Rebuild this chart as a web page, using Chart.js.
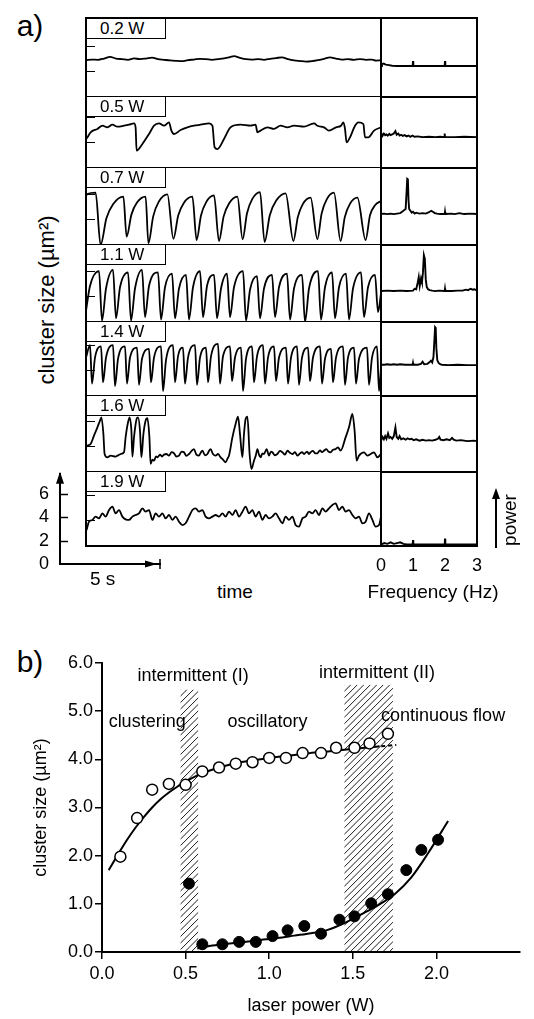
<!DOCTYPE html>
<html>
<head>
<meta charset="utf-8">
<script src="https://cdn.jsdelivr.net/npm/chart.js@4"></script>
<style>
  html, body { margin: 0; padding: 0; background: #fff; }
  body { width: 534px; height: 1019px; position: relative; overflow: hidden;
         font-family: "Liberation Sans", Arial, sans-serif; color: #000; }
  canvas { position: absolute; }
  .lbl { position: absolute; box-sizing: border-box; border: 1px solid #000; background: #fff;
         font-size: 17px; line-height: 19px; padding-left: 13px; z-index: 3; }
  .rule { position: absolute; background: #000; z-index: 2; }
  .frame { position: absolute; box-sizing: border-box; border: 2px solid #000; z-index: 2; }
  .txt { position: absolute; white-space: nowrap; line-height: 1; }
</style>
</head>
<body>
<script>
// ---------- data: a) traces, time in s, cluster size in µm² ----------
const powerLabels = ["0.2 W", "0.5 W", "0.7 W", "1.1 W", "1.4 W", "1.6 W", "1.9 W"];

const trace02 = [[0,4.48],[0.3,4.52],[0.6,4.5],[0.9,4.6],[1.2,4.74],[1.5,4.6],[1.8,4.55],[2.1,4.5],[2.4,4.62],[2.7,4.55],[3.0,4.6],[3.3,4.68],[3.6,4.55],[3.9,4.5],[4.2,4.45],[4.5,4.42],[4.8,4.4],[5.1,4.48],[5.4,4.52],[5.7,4.58],[6.0,4.55],[6.3,4.5],[6.6,4.56],[6.9,4.62],[7.2,4.72],[7.4,4.8],[7.7,4.66],[8.0,4.55],[8.3,4.52],[8.6,4.56],[8.9,4.5],[9.2,4.58],[9.5,4.64],[9.8,4.7],[10.1,4.55],[10.4,4.45],[10.7,4.4],[11.0,4.36],[11.3,4.4],[11.6,4.48],[11.9,4.58],[12.2,4.7],[12.5,4.6],[12.8,4.52],[13.1,4.55],[13.4,4.5],[13.7,4.56],[14.0,4.5],[14.3,4.52],[14.5,4.44],[14.75,4.46]];

const trace05 = [[0,3.8],[0.07,3.97],[0.23,4.38],[0.57,4.65],[0.82,4.91],[1.07,4.78],[1.32,4.99],[1.57,4.83],[1.9,4.91],[2.15,4.99],[2.4,5.1],[2.48,4.78],[2.53,2.9],[2.82,3.44],[3.15,4.24],[3.4,4.91],[3.65,5.1],[3.9,4.91],[4.15,5.18],[4.27,4.51],[4.4,4.24],[4.73,4.56],[5.07,4.78],[5.4,4.91],[5.73,4.99],[6.15,5.1],[6.32,4.91],[6.43,3.17],[6.57,3.03],[6.9,3.84],[7.23,4.78],[7.73,4.99],[8.23,4.91],[8.48,4.99],[8.57,4.38],[8.73,4.51],[9.07,4.78],[9.4,4.65],[9.73,4.91],[10.07,4.78],[10.4,4.91],[10.9,4.83],[11.4,5.1],[11.57,4.91],[11.9,4.78],[12.15,4.51],[12.5,4.78],[12.75,4.91],[12.87,5.18],[12.95,4.65],[13.03,3.57],[13.2,3.97],[13.45,4.91],[13.62,5.18],[13.87,5.04],[13.95,3.97],[14.12,3.97],[14.4,4.51],[14.75,4.78]];

const trace07 = [[0,5.5],[0.07,5.6],[0.48,5.72],[0.73,1.5],[1.02,3.65],[1.36,4.8],[1.87,5.4],[2.03,2.17],[2.27,3.95],[2.55,4.92],[2.98,5.4],[3.12,1.63],[3.36,3.81],[3.64,5.0],[4.07,5.59],[4.37,2.0],[4.61,3.87],[4.89,4.89],[5.32,5.4],[5.53,1.9],[5.75,3.88],[6.01,4.96],[6.4,5.5],[6.65,1.82],[6.88,3.79],[7.16,4.86],[7.57,5.4],[7.83,1.96],[8.05,4.06],[8.31,5.2],[8.7,5.77],[8.93,1.74],[9.19,3.9],[9.51,5.08],[9.98,5.67],[10.37,1.82],[10.59,3.75],[10.84,4.8],[11.23,5.32],[11.57,1.96],[11.78,4.03],[12.03,5.16],[12.4,5.72],[12.73,1.82],[12.94,3.75],[13.19,4.8],[13.57,5.32],[13.98,1.9],[14.2,3.9],[14.45,4.7],[14.75,5.05]];

const trace11 = [[0,2.4],[0.2,4.4],[0.65,5.6],[0.8,1.6],[1.0,4.2],[1.35,5.7],[1.5,1.8],[1.7,4.3],[2.1,5.5],[2.25,1.6],[2.45,4.2],[2.8,5.7],[2.95,1.9],[3.15,4.4],[3.6,5.5],[3.75,1.7],[3.95,4.3],[4.3,5.4],[4.45,1.8],[4.65,4.2],[5.0,5.3],[5.15,1.7],[5.35,4.3],[5.7,5.6],[5.85,1.9],[6.05,4.4],[6.4,5.3],[6.55,1.8],[6.75,4.2],[7.05,5.4],[7.2,1.9],[7.4,4.3],[7.85,5.6],[8.0,1.6],[8.2,4.1],[8.55,5.2],[8.7,1.8],[8.9,4.2],[9.3,5.3],[9.45,1.9],[9.65,4.3],[10.05,5.4],[10.2,1.7],[10.4,4.2],[10.8,5.3],[10.95,1.5],[11.15,4.2],[11.6,5.6],[11.75,1.7],[11.95,4.3],[12.3,5.5],[12.45,1.8],[12.65,4.3],[13.0,5.4],[13.15,1.7],[13.35,4.2],[13.75,5.5],[13.9,1.9],[14.1,4.3],[14.45,5.3],[14.6,2.3],[14.75,3.8]];

const trace14 = [[0,4.6],[0.2,5.6],[0.3,2.5],[0.45,4.6],[0.75,5.5],[0.85,2.6],[1.0,4.6],[1.35,5.6],[1.45,2.3],[1.6,4.5],[1.95,5.5],[2.05,2.5],[2.2,4.6],[2.55,5.4],[2.65,2.4],[2.8,4.5],[3.15,5.3],[3.25,2.6],[3.4,4.6],[3.75,5.5],[3.85,1.9],[4.0,4.4],[4.35,5.6],[4.45,2.6],[4.6,4.7],[4.85,5.4],[4.95,2.5],[5.1,4.6],[5.45,5.6],[5.55,2.4],[5.7,4.6],[6.0,5.4],[6.1,2.6],[6.25,4.7],[6.6,5.7],[6.7,2.5],[6.85,4.7],[7.2,5.5],[7.3,2.7],[7.45,4.6],[7.75,5.4],[7.85,1.9],[8.0,4.5],[8.3,5.5],[8.4,2.6],[8.55,4.7],[8.85,5.6],[8.95,2.5],[9.1,4.6],[9.4,5.5],[9.5,2.7],[9.65,4.6],[10.0,5.4],[10.1,2.5],[10.25,4.6],[10.55,5.5],[10.65,2.4],[10.8,4.6],[11.1,5.4],[11.2,2.7],[11.35,4.6],[11.7,5.5],[11.8,2.5],[11.95,4.5],[12.25,5.3],[12.35,2.6],[12.5,4.6],[12.85,5.5],[12.95,2.4],[13.1,4.6],[13.4,5.4],[13.5,2.5],[13.65,4.5],[14.05,5.4],[14.15,2.4],[14.3,4.6],[14.55,5.5],[14.65,1.9],[14.75,3.8]];

const trace16 = [[0,3.5],[0.07,3.62],[0.23,3.76],[0.4,4.43],[0.57,5.1],[0.7,5.64],[0.77,5.91],[0.87,4.56],[0.93,2.95],[1.07,2.68],[1.23,2.82],[1.48,2.74],[1.73,2.95],[1.9,3.09],[1.98,4.29],[2.1,5.5],[2.18,5.91],[2.27,4.83],[2.32,2.74],[2.4,4.29],[2.53,5.77],[2.6,5.91],[2.7,4.83],[2.77,2.68],[2.87,4.56],[2.98,5.64],[3.07,5.85],[3.17,4.29],[3.23,2.15],[3.32,2.5],[3.4,2.41],[3.5,2.75],[3.57,2.68],[3.7,2.9],[3.8,2.75],[3.9,2.9],[4.02,2.95],[4.15,2.82],[4.28,3.1],[4.4,3.01],[4.52,2.75],[4.65,2.82],[4.78,3.15],[4.9,3.09],[5.02,2.8],[5.15,2.95],[5.28,3.2],[5.4,3.35],[5.52,2.9],[5.65,2.82],[5.75,3.1],[5.82,3.22],[5.95,2.85],[6.07,2.95],[6.15,3.2],[6.23,3.35],[6.35,2.95],[6.48,2.82],[6.6,2.95],[6.73,2.68],[6.85,2.5],[6.98,2.28],[7.08,2.6],[7.15,2.82],[7.32,4.29],[7.48,5.37],[7.6,5.96],[7.7,4.56],[7.82,2.68],[7.9,4.56],[7.98,5.77],[8.07,5.96],[8.18,2.95],[8.27,1.74],[8.4,2.41],[8.5,2.9],[8.57,3.35],[8.65,2.9],[8.73,2.68],[8.82,3.0],[8.9,2.95],[9.03,3.35],[9.15,2.82],[9.25,3.15],[9.32,3.09],[9.45,2.85],[9.57,2.95],[9.7,3.2],[9.82,3.09],[9.95,2.9],[10.07,3.22],[10.2,3.05],[10.32,2.95],[10.45,3.1],[10.57,2.82],[10.7,3.0],[10.8,3.1],[10.9,2.95],[11.05,3.15],[11.15,2.95],[11.23,3.09],[11.35,3.2],[11.47,3.0],[11.57,3.01],[11.7,3.25],[11.8,3.1],[11.9,3.22],[12.02,3.35],[12.12,3.15],[12.23,3.09],[12.35,3.3],[12.48,3.35],[12.6,3.49],[12.73,3.22],[12.98,4.29],[13.15,5.1],[13.32,6.18],[13.43,4.83],[13.53,2.41],[13.65,2.82],[13.9,3.09],[14.07,2.82],[14.23,2.95],[14.4,3.09],[14.57,2.68],[14.75,2.95]];

const trace19 = [[0.03,2.79],[0.15,3.46],[0.32,3.6],[0.48,3.87],[0.65,3.73],[0.82,4.13],[0.98,3.87],[1.15,4.4],[1.32,4.67],[1.48,4.13],[1.65,4.4],[1.82,3.87],[1.98,3.65],[2.15,3.6],[2.32,3.87],[2.48,4.0],[2.65,4.13],[2.82,4.54],[2.98,4.27],[3.15,4.4],[3.32,3.6],[3.48,4.13],[3.65,3.87],[3.82,4.13],[3.98,3.73],[4.15,4.0],[4.32,3.6],[4.48,3.87],[4.65,3.46],[4.82,3.19],[4.98,3.33],[5.15,3.87],[5.32,4.4],[5.48,4.54],[5.65,4.27],[5.82,4.4],[5.98,3.87],[6.15,3.73],[6.32,3.87],[6.48,4.0],[6.65,3.87],[6.82,4.13],[6.98,3.87],[7.15,4.27],[7.32,4.0],[7.48,4.4],[7.65,3.87],[7.82,4.27],[7.98,4.67],[8.15,4.13],[8.32,4.4],[8.48,3.87],[8.65,4.27],[8.82,3.6],[8.98,4.0],[9.15,3.73],[9.32,3.87],[9.48,4.13],[9.65,3.73],[9.82,3.33],[9.98,3.87],[10.15,3.6],[10.32,3.87],[10.48,3.19],[10.65,3.06],[10.82,3.73],[10.98,3.87],[11.15,4.27],[11.32,4.13],[11.48,4.4],[11.65,4.0],[11.82,4.54],[11.98,4.27],[12.15,4.54],[12.32,4.81],[12.48,4.94],[12.65,4.4],[12.82,4.67],[12.98,4.27],[13.15,4.4],[13.32,4.0],[13.48,3.73],[13.65,3.87],[13.82,3.33],[13.98,3.46],[14.15,4.13],[14.32,3.6],[14.48,3.06],[14.65,3.19],[14.75,3.87]];

// ---------- data: a) power spectra, frequency in Hz, power in arb. units ----------
const spec02 = [[0,0.01],[0.03,0.05],[0.08,0.06],[0.15,0.04],[0.25,0.03],[0.35,0.015],[0.5,0.01],[0.99,0.01],[1.0,0.11],[1.01,0.01],[1.99,0.01],[2.0,0.11],[2.01,0.01],[3,0.01]];
const spec05 = [[0,0.02],[0.02,0.09],[0.05,0.05],[0.09,0.1],[0.13,0.06],[0.17,0.08],[0.21,0.05],[0.26,0.09],[0.3,0.06],[0.35,0.08],[0.4,0.1],[0.45,0.16],[0.49,0.07],[0.54,0.1],[0.58,0.05],[0.63,0.07],[0.68,0.04],[0.74,0.06],[0.8,0.03],[0.86,0.05],[0.92,0.02],[0.98,0.05],[1.05,0.02],[1.15,0.03],[1.3,0.01],[1.5,0.02],[1.7,0.01],[1.85,0.02],[1.98,0.01],[1.99,0.1],[2.0,0.01],[2.3,0.01],[2.6,0.02],[3,0.01]];
const spec07 = [[0,0.01],[0.1,0.02],[0.2,0.01],[0.3,0.02],[0.4,0.01],[0.5,0.02],[0.6,0.03],[0.68,0.07],[0.73,0.1],[0.77,0.12],[0.8,0.5],[0.82,0.77],[0.84,0.76],[0.86,0.3],[0.88,0.12],[0.92,0.08],[0.96,0.04],[1.0,0.06],[1.05,0.02],[1.1,0.04],[1.2,0.02],[1.3,0.03],[1.4,0.02],[1.5,0.05],[1.57,0.08],[1.62,0.06],[1.68,0.03],[1.75,0.02],[1.85,0.01],[1.99,0.01],[2.0,0.06],[2.01,0.01],[2.2,0.02],[2.3,0.01],[2.45,0.03],[2.6,0.01],[2.8,0.02],[3,0.01]];
const spec11 = [[0,0.01],[0.2,0.02],[0.4,0.01],[0.6,0.02],[0.8,0.01],[1.0,0.02],[1.05,0.06],[1.1,0.05],[1.15,0.2],[1.18,0.31],[1.21,0.12],[1.25,0.28],[1.28,0.2],[1.31,0.4],[1.34,0.78],[1.37,0.7],[1.4,0.25],[1.43,0.1],[1.47,0.05],[1.52,0.03],[1.6,0.02],[1.7,0.01],[1.8,0.02],[1.99,0.01],[2.0,0.06],[2.01,0.01],[2.2,0.01],[2.4,0.02],[2.55,0.02],[2.65,0.04],[2.72,0.03],[2.8,0.06],[2.86,0.04],[2.92,0.05],[3,0.02]];
const spec14 = [[0,0.02],[0.1,0.02],[0.2,0.03],[0.3,0.02],[0.4,0.03],[0.5,0.02],[0.6,0.03],[0.75,0.02],[0.9,0.02],[0.99,0.02],[1.0,0.06],[1.01,0.02],[1.15,0.02],[1.25,0.04],[1.3,0.09],[1.35,0.03],[1.45,0.04],[1.52,0.08],[1.56,0.11],[1.6,0.07],[1.64,0.2],[1.67,0.6],[1.69,0.88],[1.71,0.86],[1.73,0.4],[1.76,0.12],[1.8,0.06],[1.85,0.03],[1.9,0.02],[2.1,0.01],[2.4,0.02],[2.7,0.01],[3,0.01]];
const spec16 = [[0,0.02],[0.05,0.1],[0.09,0.05],[0.13,0.12],[0.17,0.06],[0.22,0.18],[0.26,0.08],[0.3,0.1],[0.35,0.06],[0.4,0.12],[0.45,0.31],[0.49,0.1],[0.54,0.06],[0.58,0.12],[0.63,0.05],[0.7,0.07],[0.77,0.04],[0.83,0.07],[0.9,0.05],[0.96,0.06],[1.02,0.03],[1.1,0.05],[1.2,0.02],[1.3,0.04],[1.4,0.02],[1.5,0.03],[1.6,0.02],[1.7,0.04],[1.78,0.06],[1.82,0.1],[1.86,0.04],[1.95,0.03],[2.05,0.05],[2.15,0.03],[2.22,0.08],[2.27,0.04],[2.35,0.02],[2.5,0.03],[2.7,0.01],[2.9,0.02],[3,0.01]];
const spec19 = [[0,0.01],[0.1,0.03],[0.2,0.02],[0.3,0.04],[0.4,0.02],[0.5,0.03],[0.6,0.04],[0.7,0.02],[0.8,0.01],[0.99,0.01],[1.0,0.07],[1.01,0.01],[1.5,0.01],[1.99,0.01],[2.0,0.09],[2.01,0.01],[3,0.01]];

const traces = [trace02, trace05, trace07, trace11, trace14, trace16, trace19];
const spectra = [spec02, spec05, spec07, spec11, spec14, spec16, spec19];

const freqTicks = [0, 1, 2, 3];
const scaleSizeTicks = [0, 2, 4, 6];
const panelSizeTicks = [3.6, 5.6];

// ---------- data: b) cluster size vs laser power ----------
const openPower = [0.11, 0.21, 0.3, 0.4, 0.5, 0.6, 0.7, 0.8, 0.9, 1.0, 1.1, 1.2, 1.31, 1.4, 1.51, 1.6, 1.71];
const openSize  = [1.98, 2.78, 3.37, 3.49, 3.47, 3.75, 3.83, 3.91, 3.94, 4.03, 4.03, 4.13, 4.13, 4.24, 4.24, 4.33, 4.53];
const filledPower = [0.52, 0.6, 0.72, 0.82, 0.92, 1.02, 1.11, 1.21, 1.31, 1.42, 1.51, 1.61, 1.71, 1.82, 1.91, 2.01];
const filledSize  = [1.42, 0.16, 0.16, 0.21, 0.21, 0.33, 0.45, 0.54, 0.38, 0.67, 0.74, 1.01, 1.2, 1.7, 2.12, 2.33];
const upperFit = [[0.04,1.7],[0.1,2.05],[0.15,2.33],[0.2,2.58],[0.25,2.8],[0.3,3.0],[0.35,3.17],[0.4,3.31],[0.45,3.43],[0.5,3.54],[0.55,3.63],[0.6,3.71],[0.7,3.83],[0.8,3.92],[0.9,3.98],[1.0,4.03],[1.1,4.07],[1.2,4.11],[1.3,4.15],[1.4,4.18],[1.5,4.22],[1.6,4.25],[1.66,4.27]];
const upperFitDashed = [[1.67,4.27],[1.76,4.3]];
const lowerFit = [[0.57,0.07],[0.65,0.13],[0.75,0.17],[0.85,0.21],[0.95,0.25],[1.05,0.29],[1.15,0.34],[1.25,0.39],[1.35,0.46],[1.45,0.6],[1.55,0.78],[1.65,0.97],[1.75,1.2],[1.85,1.55],[1.95,2.05],[2.07,2.72]];
// intermittent regimes: [from W, to W, top of band]
const intermittentBands = [[0.47, 0.575, 5.45], [1.45, 1.74, 5.55]];
const powerTicks = [0, 0.5, 1, 1.5, 2];
const sizeTicks = [0, 1, 2, 3, 4, 5, 6];
const regimeNotes = [
  { text: "intermittent (I)", x: 0.545, y: 5.72 },
  { text: "intermittent (II)", x: 1.645, y: 5.8 },
  { text: "clustering", x: 0.27, y: 4.78 },
  { text: "oscillatory", x: 0.99, y: 4.78 },
  { text: "continuous flow", x: 2.04, y: 4.9 },
];

// ---------- layout ----------
const FONT = '"Liberation Sans", Arial, sans-serif';
Chart.defaults.font.family = FONT;
Chart.defaults.color = "#000";

const PANEL_EDGES = [18, 97, 168, 245, 322, 396, 472, 546];
const TIME_L = 86, TIME_R = 381, SPEC_R = 477;
const T_END = 14.75;      // seconds across a trace panel
const SIZE_MIN = 1.5;     // cluster size at panel bottom
const PX_PER_UM2 = 12.4;  // same vertical scale as the scale bar

const base = {
  responsive: false, animation: false, events: [], devicePixelRatio: 1,
  plugins: { legend: { display: false }, tooltip: { enabled: false } },
};

function canvasAt(left, top, w, h) {
  const c = document.createElement("canvas");
  c.width = w; c.height = h;
  Object.assign(c.style, { left: left + "px", top: top + "px", width: w + "px", height: h + "px" });
  document.body.appendChild(c);
  return c;
}
function div(cls, css, text) {
  const d = document.createElement("div");
  d.className = cls;
  Object.assign(d.style, css);
  if (text) d.textContent = text;
  document.body.appendChild(d);
  return d;
}
function text(str, cx, cy, size, rot) {
  div("txt", { left: cx + "px", top: cy + "px", fontSize: size + "px",
    transform: "translate(-50%,-50%)" + (rot ? " rotate(-90deg)" : "") }, str);
}
const toXY = (pts) => pts.map(([x, y]) => ({ x, y }));

const panelTickMarks = {
  id: "panelTickMarks",
  afterDatasetsDraw(chart) {
    const { ctx, chartArea, scales: { y } } = chart;
    ctx.save();
    ctx.strokeStyle = "#000";
    ctx.lineWidth = 1;
    panelSizeTicks.forEach((v) => {
      const py = Math.round(y.getPixelForValue(v)) + 0.5;
      ctx.beginPath();
      ctx.moveTo(chartArea.left, py);
      ctx.lineTo(chartArea.left + 9, py);
      ctx.stroke();
    });
    ctx.restore();
  },
};

// traces
traces.forEach((pts, i) => {
  const top = PANEL_EDGES[i], h = PANEL_EDGES[i + 1] - top;
  new Chart(canvasAt(TIME_L, top, TIME_R - TIME_L, h), {
    type: "scatter",
    data: { datasets: [{ data: toXY(pts), showLine: true, borderColor: "#000",
      borderWidth: 1.8, pointRadius: 0, cubicInterpolationMode: "monotone" }] },
    options: { ...base, layout: { padding: 0 },
      scales: {
        x: { type: "linear", display: false, min: 0, max: T_END },
        y: { display: false, min: SIZE_MIN, max: SIZE_MIN + h / PX_PER_UM2 },
      } },
    plugins: [panelTickMarks],
  });
});

// spectra
spectra.forEach((pts, i) => {
  const top = PANEL_EDGES[i], h = PANEL_EDGES[i + 1] - top;
  const last = i === spectra.length - 1;
  const pad = last ? 10 : 0;
  new Chart(canvasAt(TIME_R - pad, top, SPEC_R - TIME_R + 2 * pad, h + (last ? 30 : 0)), {
    type: "scatter",
    data: { datasets: [{ data: toXY(pts), showLine: true, borderColor: "#000",
      borderWidth: 1.9, pointRadius: 0, tension: 0 }] },
    options: { ...base, layout: { padding: { left: pad, right: pad, top: 0, bottom: 0 } },
      scales: {
        x: { type: "linear", display: last, min: 0, max: 3,
          border: { display: false }, grid: { display: false },
          afterBuildTicks: (s) => { s.ticks = freqTicks.map((v) => ({ value: v })); },
          afterFit: (s) => { s.height = 30; },
          ticks: { font: { size: 18 }, padding: 1, maxRotation: 0, autoSkip: false } },
        y: { display: false, min: -0.01, max: 1 },
      } },
  });
});

// scale bar (cluster size / 5 s)
const scaleBarMarks = {
  id: "scaleBarMarks",
  afterDraw(chart) {
    const { ctx, scales: { x, y } } = chart;
    const x0 = x.getPixelForValue(0), y0 = y.getPixelForValue(0);
    const yTop = y.getPixelForValue(y.max), xEnd = x.getPixelForValue(x.max);
    ctx.save();
    ctx.fillStyle = ctx.strokeStyle = "#000";
    ctx.lineWidth = 1.5;
    ctx.beginPath();
    ctx.moveTo(x0, yTop - 2); ctx.lineTo(x0 - 4, yTop + 10); ctx.lineTo(x0 + 4, yTop + 10);
    ctx.fill();
    ctx.beginPath();
    ctx.moveTo(xEnd - 3, y0); ctx.lineTo(xEnd - 15, y0 - 3.5); ctx.lineTo(xEnd - 15, y0 + 3.5);
    ctx.fill();
    ctx.beginPath();
    ctx.moveTo(xEnd, y0 - 5); ctx.lineTo(xEnd, y0 + 5);
    ctx.stroke();
    scaleSizeTicks.slice(1).forEach((v) => {
      const py = Math.round(y.getPixelForValue(v)) + 0.5;
      ctx.beginPath(); ctx.moveTo(x0 - 1, py); ctx.lineTo(x0 + 8, py); ctx.stroke();
    });
    ctx.restore();
  },
};
new Chart(canvasAt(0, 460, 200, 120), {
  type: "scatter",
  data: { datasets: [] },
  options: { ...base, layout: { padding: { top: 8, right: 40, left: 0, bottom: 0 } },
    scales: {
      x: { type: "linear", min: 0, max: 5, grid: { display: false }, ticks: { display: false },
        border: { color: "#000", width: 2 }, afterFit: (s) => { s.height = 16; } },
      y: { min: 0, max: 7.7, grid: { display: false }, border: { color: "#000", width: 2 },
        afterBuildTicks: (s) => { s.ticks = scaleSizeTicks.map((v) => ({ value: v })); },
        ticks: { font: { size: 18 }, padding: 3 }, afterFit: (s) => { s.width = 60; } },
    } },
  plugins: [scaleBarMarks],
});

// frames and labels of panel a
div("frame", { left: "85px", top: "17px", width: "393px", height: "530px" });
div("rule", { left: "380px", top: "17px", width: "2px", height: "530px" });
PANEL_EDGES.slice(1, -1).forEach((y) => {
  div("rule", { left: "85px", top: (y - 1) + "px", width: "296px", height: "1px" });
  div("rule", { left: "381px", top: (y - 1) + "px", width: "97px", height: "2px" });
});
powerLabels.forEach((lab, i) => {
  div("lbl", { left: "86px", top: (PANEL_EDGES[i] - (i ? 1 : 0)) + "px", width: "80px", height: "21px" }, lab);
});

text("a)", 30, 26, 30);
text("b)", 30, 662, 30);
text("cluster size (\u00b5m\u00b2)", 47, 300, 22, true);
text("time", 235, 591, 19);
text("Frequency (Hz)", 433, 591, 19);
div("txt", { left: "90px", top: "569px", fontSize: "19px" }, "5 s");
text("power", 509, 520, 19, true);
div("rule", { left: "495px", top: "497px", width: "2px", height: "51px" });
div("rule", { left: "492px", top: "488px", width: "0", height: "0", background: "transparent",
  borderLeft: "4px solid transparent", borderRight: "4px solid transparent", borderBottom: "11px solid #000" });

// ---------- panel b ----------
const hatchBands = {
  id: "hatchBands",
  beforeDatasetsDraw(chart) {
    const { ctx, scales: { x, y } } = chart;
    intermittentBands.forEach(([p0, p1, top]) => {
      const l = x.getPixelForValue(p0), r = x.getPixelForValue(p1);
      const t = y.getPixelForValue(top), b = y.getPixelForValue(0);
      const h = b - t;
      ctx.save();
      ctx.beginPath(); ctx.rect(l, t, r - l, h); ctx.clip();
      ctx.strokeStyle = "#000"; ctx.lineWidth = 0.9;
      ctx.beginPath();
      for (let k = l - h; k < r + 2; k += 6.5) { ctx.moveTo(k, b); ctx.lineTo(k + h, t); }
      ctx.stroke();
      ctx.restore();
    });
  },
  afterDatasetsDraw(chart) {
    const { ctx, scales: { x, y } } = chart;
    ctx.save();
    ctx.font = "18px " + FONT;
    ctx.fillStyle = "#000"; ctx.textAlign = "center"; ctx.textBaseline = "middle";
    regimeNotes.forEach((n) => ctx.fillText(n.text, x.getPixelForValue(n.x), y.getPixelForValue(n.y)));
    ctx.restore();
  },
};

const line = { showLine: true, borderColor: "#000", borderWidth: 2, pointRadius: 0,
  cubicInterpolationMode: "monotone" };

new Chart(canvasAt(0, 640, 534, 379), {
  type: "scatter",
  data: { datasets: [
    { data: openPower.map((x, i) => ({ x, y: openSize[i] })), pointRadius: 5.5,
      pointBackgroundColor: "#fff", pointBorderColor: "#000", pointBorderWidth: 1.5 },
    { data: filledPower.map((x, i) => ({ x, y: filledSize[i] })), pointRadius: 5.5,
      pointBackgroundColor: "#000", pointBorderColor: "#000", pointBorderWidth: 1 },
    { ...line, data: toXY(upperFit) },
    { ...line, data: toXY(upperFitDashed), borderDash: [4, 3] },
    { ...line, data: toXY(lowerFit) },
  ] },
  options: { ...base, layout: { padding: { left: 27, top: 23, right: 14, bottom: 2 } },
    scales: {
      x: { type: "linear", min: 0, max: 2.5,
        afterBuildTicks: (s) => { s.ticks = powerTicks.map((v) => ({ value: v })); },
        afterFit: (s) => { s.height = 65; },
        grid: { drawOnChartArea: false, color: "#000", lineWidth: 1.5, tickLength: 7 },
        border: { color: "#000", width: 2 },
        ticks: { font: { size: 18 }, padding: 4, maxRotation: 0, callback: (v) => v.toFixed(1) },
        title: { display: true, text: "laser power (W)", font: { size: 18 }, padding: { top: 0, bottom: 0 } } },
      y: { min: 0, max: 6,
        afterBuildTicks: (s) => { s.ticks = sizeTicks.map((v) => ({ value: v })); },
        afterFit: (s) => { s.width = 75; },
        grid: { drawOnChartArea: false, color: "#000", lineWidth: 1.5, tickLength: 7 },
        border: { color: "#000", width: 2 },
        ticks: { font: { size: 18 }, padding: 2, callback: (v) => v.toFixed(1) },
        title: { display: true, text: "cluster size (\u00b5m\u00b2)", font: { size: 18 }, padding: { top: 3, bottom: 0 } } },
    } },
  plugins: [hatchBands],
});
</script>
</body>
</html>
